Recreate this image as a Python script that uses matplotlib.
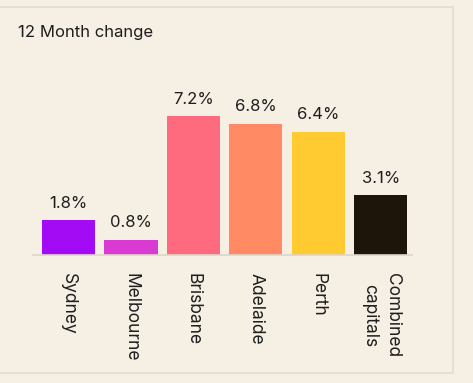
import matplotlib.pyplot as plt
from matplotlib.patches import Rectangle

# Данные
cities = ['Sydney', 'Melbourne', 'Brisbane', 'Adelaide', 'Perth', 'Combined\ncapitals']
change = [1.8, 0.8, 7.2, 6.8, 6.4, 3.1]
colors = ['#A20BF4', '#D83AD2', '#FF6B7E', '#FF8A63', '#FFCB30', '#1E150A']

bg = '#F6EFE4'
txt = '#1E1E1E'
plt.rcParams['font.family'] = ['Inter', 'DejaVu Sans']

W, H = 473, 383
fig = plt.figure(figsize=(W / 100, H / 100), dpi=100, facecolor=bg)

# рамка карточки
fig.add_artist(Rectangle((-0.05, 10 / H), (453 + 0.05 * W) / W, (373 - 7) / H,
                         transform=fig.transFigure, fill=False,
                         edgecolor='#E3DBCF', linewidth=1.2))

fig.text(18 / W, 1 - 32 / H, '12 Month change', fontsize=12, color=txt, va='center')

ax = fig.add_axes([33 / W, (H - 255) / H, 379 / W, (255 - 101) / H])
ax.set_facecolor(bg)
x = list(range(len(cities)))
bars = ax.bar(x, change, width=0.85, color=colors)
for b, v in zip(bars, change):
    ax.annotate(f'{v}%', (b.get_x() + b.get_width() / 2, v), xytext=(0, 7),
                textcoords='offset points', ha='center', va='bottom',
                fontsize=12, color=txt)

ax.set_xlim(-0.57, 5.5)
ax.set_ylim(0, 8)
ax.set_yticks([])
for s in ['top', 'right', 'left']:
    ax.spines[s].set_visible(False)
ax.spines['bottom'].set_color('#DDD5C8')
ax.spines['bottom'].set_linewidth(1.2)
ax.set_xticks(x)
ax.set_xticklabels(cities, rotation=270, ha='center', va='top',
                   multialignment='center', fontsize=12.5, color=txt,
                   linespacing=1.45)
ax.tick_params(axis='x', length=0, pad=13)

fig.savefig('out.png', dpi=100, facecolor=bg)
